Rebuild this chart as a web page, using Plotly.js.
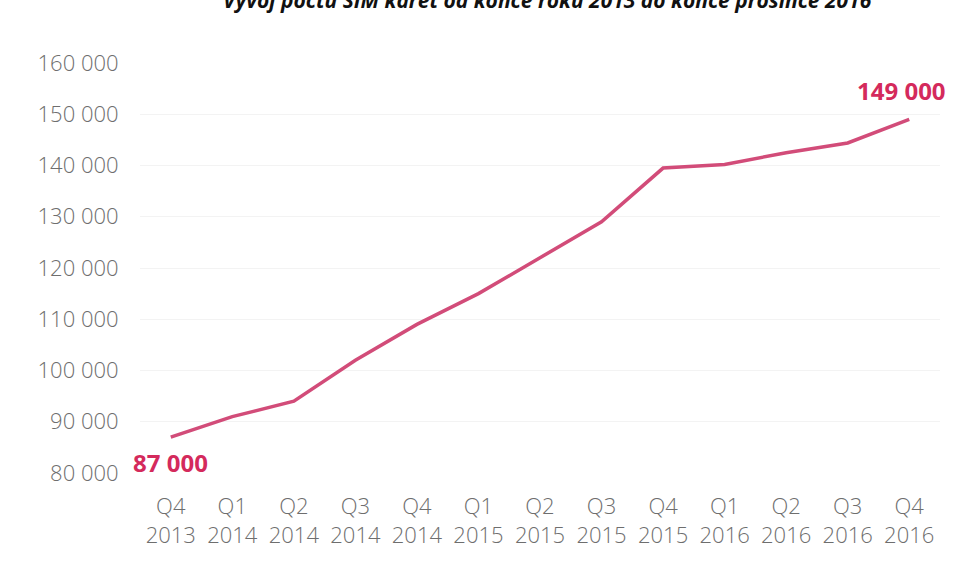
<!DOCTYPE html>
<html>
<head>
<meta charset="utf-8">
<script src="https://cdn.plot.ly/plotly-3.0.1.min.js"></script>
<style>html,body{margin:0;padding:0;background:#fff;}#chart{width:954px;height:563px;}</style>
</head>
<body>
<div id="chart"></div>
<script>
var quarters = ["Q4", "Q1", "Q2", "Q3", "Q4", "Q1", "Q2", "Q3", "Q4", "Q1", "Q2", "Q3", "Q4"];
var years = ["2013", "2014", "2014", "2014", "2014", "2015", "2015", "2015", "2015", "2016", "2016", "2016", "2016"];
var simCards = [87000, 91000, 94000, 102000, 109000, 115000, 122000, 129000, 139500, 140200, 142500, 144400, 149000];
var yTicks = [80000, 90000, 100000, 110000, 120000, 130000, 140000, 150000, 160000];
var titleText = "Vývoj počtu SIM karet od konce roku 2013 do konce prosince 2016";

var idx = simCards.map(function (_, i) { return i; });
var tickText = quarters.map(function (q, i) { return q + "<br>" + years[i]; });
var last = simCards.length - 1;
function fmt(v) { return String(v).replace(/\B(?=(\d{3})+(?!\d))/g, " "); }

var trace = {
  x: idx,
  y: simCards,
  type: "scatter",
  mode: "lines",
  line: { color: "#d24c79", width: 3.5 },
  hoverinfo: "skip"
};

var tickFont = { family: "'Open Sans', sans-serif", size: 22, color: "#6e6e6e", weight: 300 };

var layout = {
  width: 954,
  height: 563,
  margin: { l: 140, r: 14, t: 63, b: 90 },
  paper_bgcolor: "#ffffff",
  plot_bgcolor: "#ffffff",
  separators: ", ",
  showlegend: false,
  font: { family: "'Open Sans', sans-serif", color: "#6e6e6e", size: 22 },
  xaxis: {
    range: [-0.5, 12.5],
    tickvals: idx,
    ticktext: tickText,
    showgrid: false,
    zeroline: false,
    showline: false,
    ticks: "outside",
    ticklen: 14,
    tickcolor: "rgba(0,0,0,0)",
    tickfont: tickFont
  },
  yaxis: {
    range: [80000, 160000],
    tickvals: yTicks,
    tickformat: ",d",
    showgrid: true,
    gridcolor: "#f3f3f3",
    gridwidth: 1,
    zeroline: false,
    showline: false,
    ticks: "outside",
    ticklen: 16,
    tickcolor: "rgba(0,0,0,0)",
    tickfont: tickFont
  },
  annotations: [
    {
      x: 0, y: simCards[0], xref: "x", yref: "y",
      text: fmt(simCards[0]),
      showarrow: false, xanchor: "center", yanchor: "top", yshift: -7,
      font: { family: "'Open Sans', sans-serif", size: 24, color: "#d42a5c", weight: 700 }
    },
    {
      x: last, y: simCards[last], xref: "x", yref: "y",
      text: fmt(simCards[last]),
      showarrow: false, xanchor: "center", yanchor: "bottom", yshift: 10, xshift: -8,
      font: { family: "'Open Sans', sans-serif", size: 24, color: "#d42a5c", weight: 700 }
    },
    {
      x: 0.509, y: 1.153, xref: "paper", yref: "paper",
      text: "<b><i>" + titleText + "</i></b>",
      showarrow: false, xanchor: "center", yanchor: "middle",
      font: { family: "'Open Sans', sans-serif", size: 21, color: "#111111" }
    }
  ]
};

Plotly.newPlot("chart", [trace], layout, { staticPlot: true, displayModeBar: false });
</script>
</body>
</html>
